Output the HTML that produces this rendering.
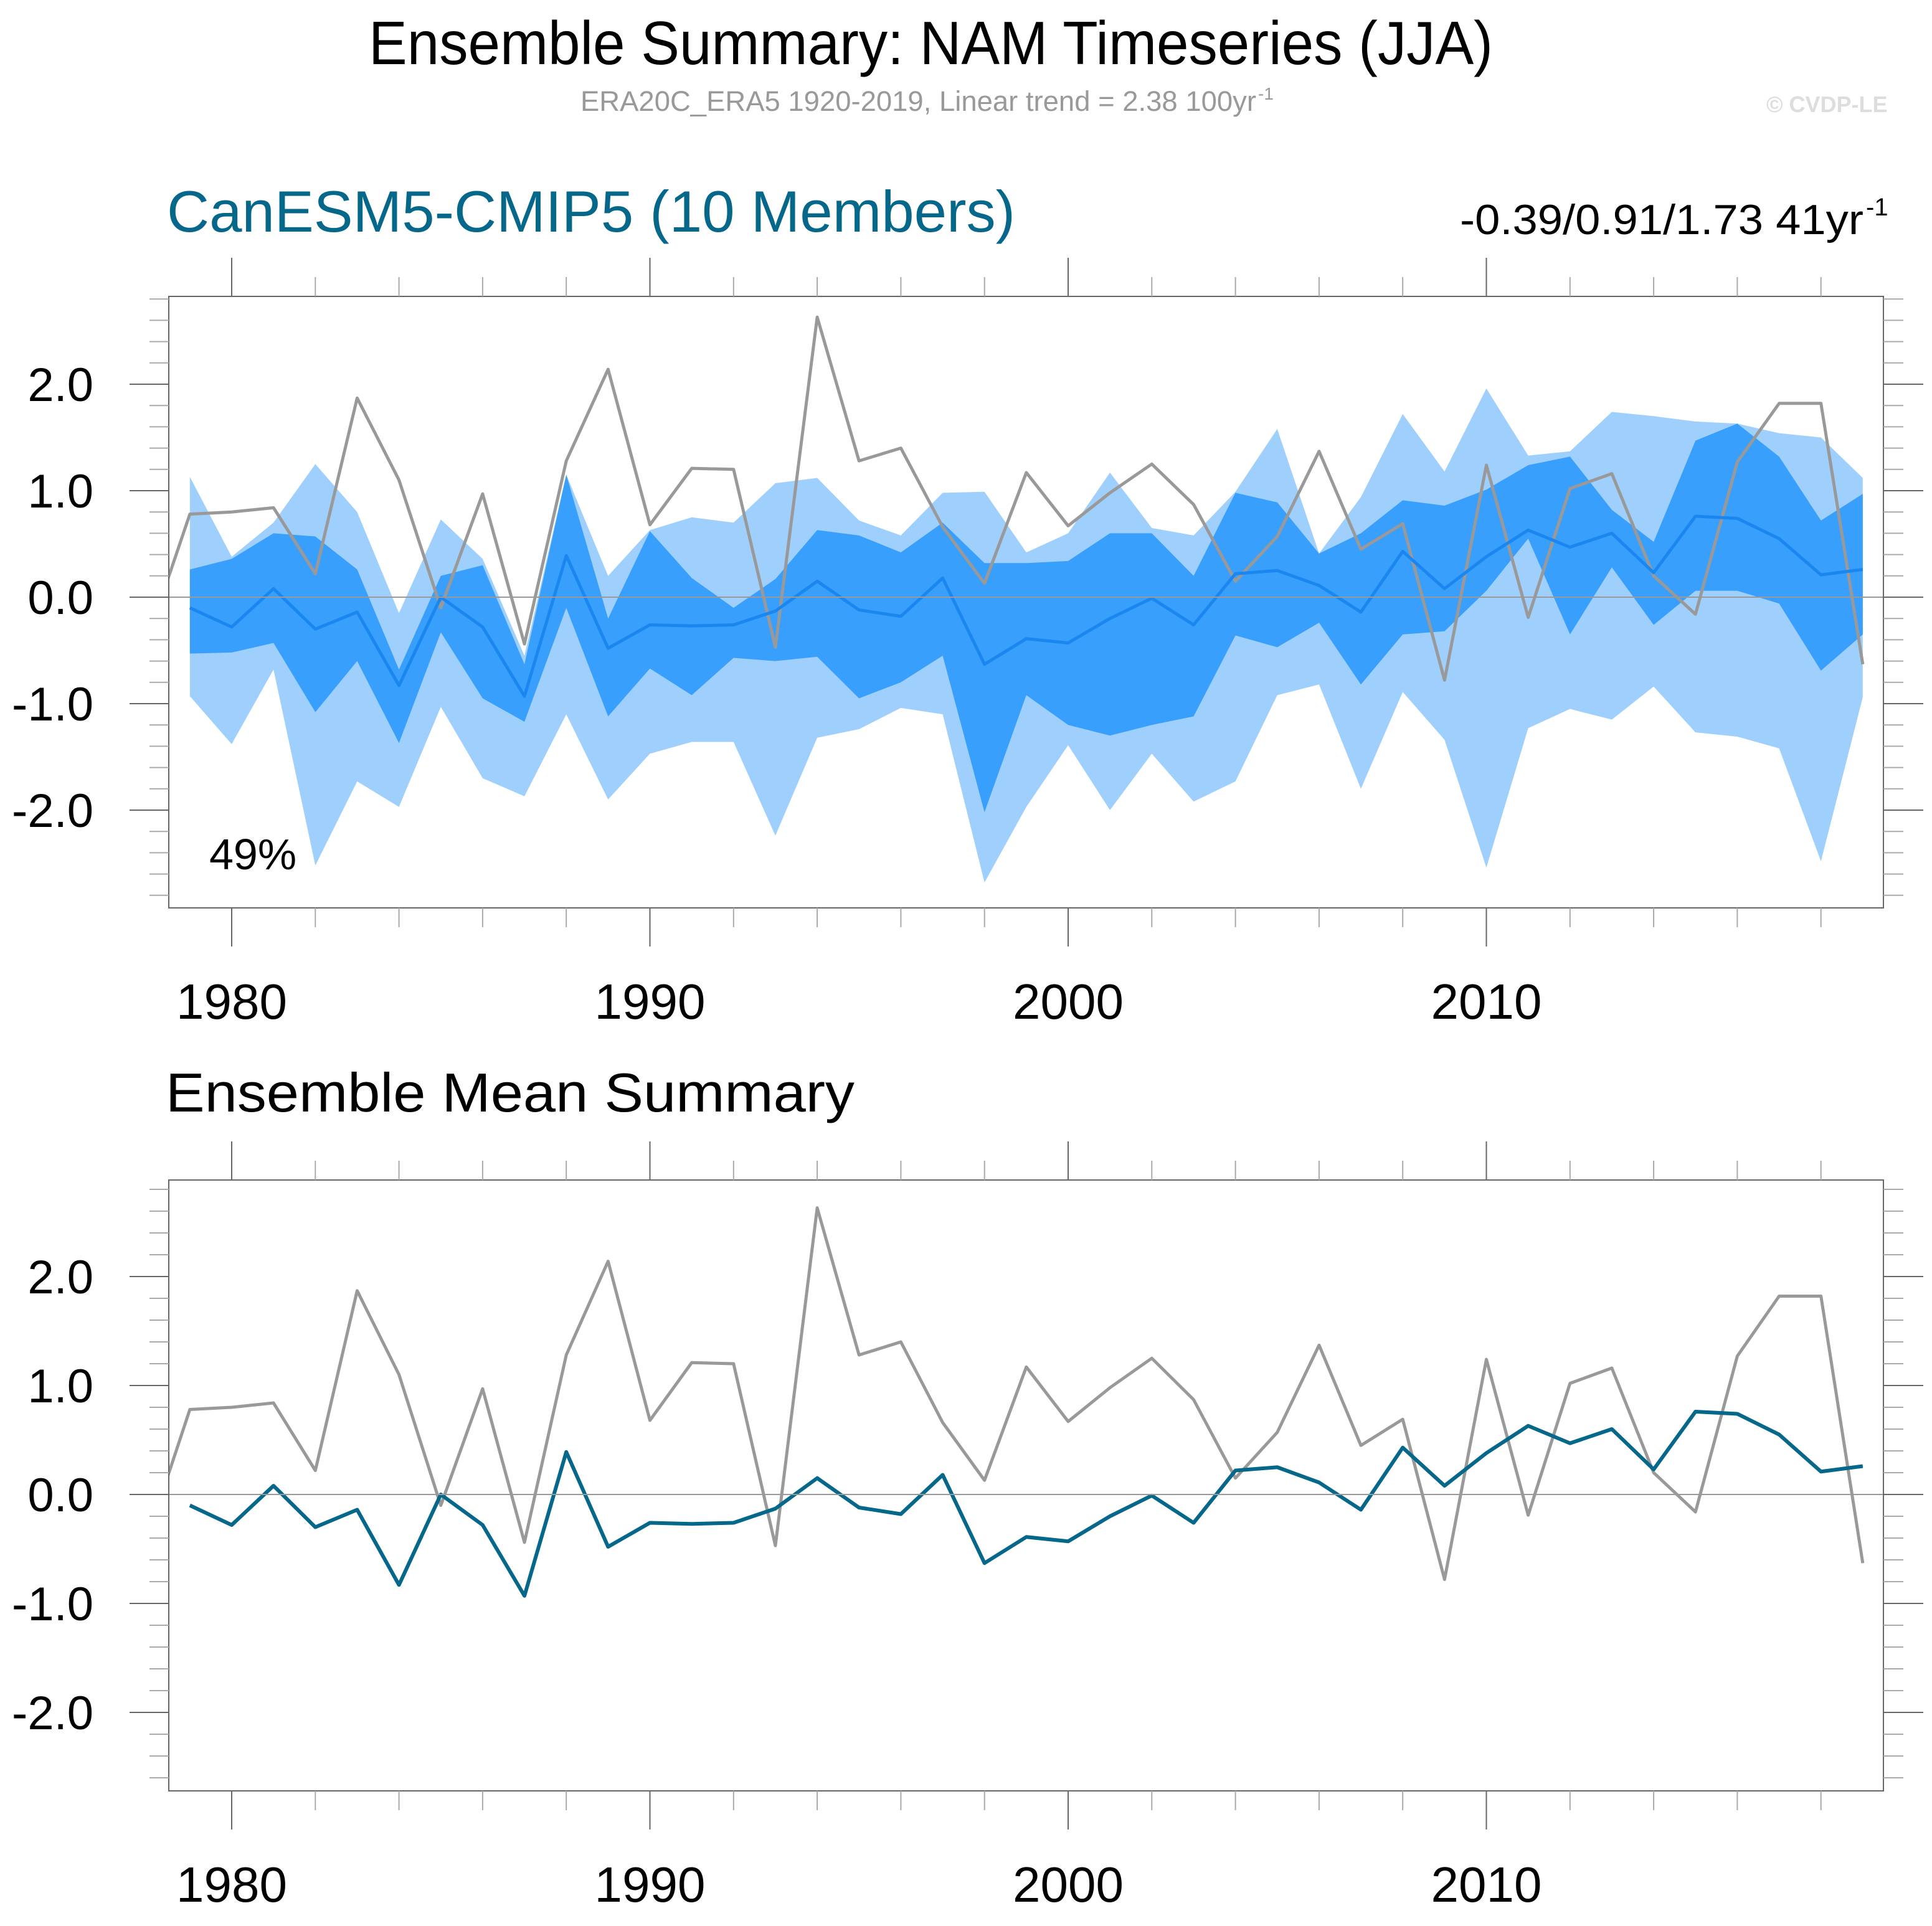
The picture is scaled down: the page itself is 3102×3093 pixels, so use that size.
<!DOCTYPE html>
<html><head><meta charset="utf-8"><style>
html,body{margin:0;padding:0;background:#fff;}
svg{display:block;}
text{font-family:"Liberation Sans",sans-serif;}
</style></head>
<body>
<svg id="chart" xmlns="http://www.w3.org/2000/svg" width="3102" height="3093" viewBox="0 0 3102 3093">
<rect width="3102" height="3093" fill="#fff"/>
<text x="592" y="103" font-size="98" textLength="1805" lengthAdjust="spacingAndGlyphs">Ensemble Summary: NAM Timeseries (JJA)</text>
<text x="932" y="178" font-size="45" fill="#999" textLength="1085" lengthAdjust="spacingAndGlyphs">ERA20C_ERA5 1920-2019, Linear trend = 2.38 100yr</text>
<text x="2020" y="160" font-size="28" fill="#999">-1</text>
<text x="2836" y="180" font-size="36" font-weight="bold" fill="#ddd">© CVDP-LE</text>
<text x="268" y="372" font-size="94" fill="#05678a" textLength="1362" lengthAdjust="spacingAndGlyphs">CanESM5-CMIP5 (10 Members)</text>
<text x="2344" y="376" font-size="68" textLength="648" lengthAdjust="spacingAndGlyphs">-0.39/0.91/1.73 41yr</text>
<text x="2996" y="346" font-size="40">-1</text>
<text x="266" y="1785" font-size="88" textLength="1106" lengthAdjust="spacingAndGlyphs">Ensemble Mean Summary</text>
<g id="p1"></g>
<g id="p2"></g>
</svg>
<script>
const years = [1979,1980,1981,1982,1983,1984,1985,1986,1987,1988,1989,1990,1991,1992,1993,1994,1995,1996,1997,1998,1999,2000,2001,2002,2003,2004,2005,2006,2007,2008,2009,2010,2011,2012,2013,2014,2015,2016,2017,2018,2019];
const obsYears = [1978,1979,1980,1981,1982,1983,1984,1985,1986,1987,1988,1989,1990,1991,1992,1993,1994,1995,1996,1997,1998,1999,2000,2001,2002,2003,2004,2005,2006,2007,2008,2009,2010,2011,2012,2013,2014,2015,2016,2017,2018,2019];
const obsValues = [-0.38,0.78,0.8,0.84,0.22,1.87,1.1,-0.1,0.97,-0.44,1.28,2.14,0.68,1.21,1.2,-0.47,2.63,1.28,1.4,0.66,0.13,1.17,0.67,0.98,1.25,0.87,0.15,0.57,1.37,0.45,0.69,-0.78,1.24,-0.19,1.02,1.16,0.2,-0.16,1.27,1.82,1.82,-0.63];
const ensMean = [-0.1,-0.28,0.08,-0.3,-0.14,-0.83,0.0,-0.28,-0.93,0.39,-0.48,-0.26,-0.27,-0.26,-0.13,0.15,-0.12,-0.18,0.18,-0.63,-0.39,-0.43,-0.2,-0.01,-0.26,0.22,0.25,0.11,-0.14,0.43,0.08,0.38,0.63,0.47,0.6,0.23,0.76,0.74,0.55,0.21,0.26];
const lightUpper = [1.13,0.38,0.7,1.25,0.8,-0.15,0.73,0.36,-0.55,1.15,0.2,0.63,0.75,0.7,1.07,1.12,0.72,0.58,0.98,0.99,0.42,0.6,1.17,0.65,0.58,0.99,1.58,0.41,0.94,1.72,1.18,1.96,1.33,1.37,1.74,1.7,1.65,1.63,1.54,1.5,1.12];
const lightLower = [-0.93,-1.38,-0.68,-2.52,-1.73,-1.97,-1.03,-1.7,-1.87,-1.1,-1.9,-1.47,-1.36,-1.36,-2.24,-1.32,-1.24,-1.04,-1.1,-2.68,-1.97,-1.39,-2.0,-1.47,-1.92,-1.73,-0.92,-0.82,-1.8,-0.89,-1.34,-2.54,-1.23,-1.05,-1.15,-0.84,-1.27,-1.31,-1.42,-2.48,-0.94];
const darkUpper = [0.26,0.36,0.6,0.57,0.26,-0.68,0.2,0.3,-0.63,1.15,-0.2,0.62,0.18,-0.1,0.17,0.63,0.58,0.42,0.7,0.32,0.32,0.34,0.6,0.6,0.2,0.98,0.89,0.41,0.6,0.91,0.86,1.01,1.24,1.32,0.82,0.52,1.47,1.63,1.32,0.72,0.97];
const darkLower = [-0.53,-0.52,-0.43,-1.08,-0.6,-1.37,-0.33,-0.95,-1.17,-0.1,-1.12,-0.67,-0.92,-0.57,-0.6,-0.56,-0.95,-0.8,-0.55,-2.02,-0.92,-1.2,-1.3,-1.2,-1.12,-0.36,-0.47,-0.24,-0.82,-0.35,-0.32,0.06,0.55,-0.35,0.28,-0.26,0.06,0.06,-0.06,-0.69,-0.35];
const yTicks = [-2,-1,0,1,2];
const yTickLabels = ["-2.0","-1.0","0.0","1.0","2.0"];
const xTicks = [1980,1990,2000,2010];
const xTickLabels = ["1980","1990","2000","2010"];

const NS="http://www.w3.org/2000/svg";
function mk(parent, tag, attrs){const e=document.createElementNS(NS,tag);for(const k in attrs)e.setAttribute(k,attrs[k]);parent.appendChild(e);return e;}
const L=271,R=3024;
function xs(yr){return 372+(yr-1980)*67.15;}

function panel(g, top, bottom, zero, unit, id, withBands, meanColor){
  const ys=v=>zero-v*unit;
  const cp=mk(g,'clipPath',{id:'clip'+id});
  mk(cp,'rect',{x:L,y:top,width:R-L,height:bottom-top});
  const inner=mk(g,'g',{'clip-path':'url(#clip'+id+')'});
  if(withBands){
    let d='M'+years.map((y,i)=>xs(y)+','+ys(lightUpper[i])).join(' L')+' L'+years.slice().reverse().map((y,j)=>xs(y)+','+ys(lightLower[years.length-1-j])).join(' L')+'Z';
    const lb=mk(inner,'path',{d:d,fill:'#9fd0fd'});
    
    
    d='M'+years.map((y,i)=>xs(y)+','+ys(darkUpper[i])).join(' L')+' L'+years.slice().reverse().map((y,j)=>xs(y)+','+ys(darkLower[years.length-1-j])).join(' L')+'Z';
    const db=mk(inner,'path',{d:d,fill:'#389ffd'});
    
    
  }
  const zl=mk(g,'line',{x1:208,x2:R,y1:ys(0),y2:ys(0),stroke:'#999','stroke-width':2});
  
  
  const ol=mk(inner,'polyline',{points:obsYears.map((y,i)=>xs(y)+','+ys(obsValues[i])).join(' '),fill:'none',stroke:'#999','stroke-width':5,'stroke-linejoin':'round'});
  
  
  const ml=mk(inner,'polyline',{points:years.map((y,i)=>xs(y)+','+ys(ensMean[i])).join(' '),fill:'none',stroke:meanColor,'stroke-width':withBands?5:6,'stroke-linejoin':'round'});
  
  
  const fr=mk(g,'rect',{x:L,y:top,width:R-L,height:bottom-top,fill:'none',stroke:'#666','stroke-width':2});
  
  
  for(let k=-30;k<=30;k+=2){const v=k/10;const y=ys(v);if(y<top-1||y>bottom+1)continue;
    const major=(k%10===0);
    mk(g,'line',{x1:major?208:240,x2:L,y1:y,y2:y,stroke:major?'#666':'#aaa','stroke-width':2});
    mk(g,'line',{x1:R,x2:major?R+64:R+32,y1:y,y2:y,stroke:major?'#666':'#aaa','stroke-width':2});
  }
  yTicks.forEach((v,i)=>{const t=mk(g,'text',{x:150,y:ys(v)+27,'font-size':76,'text-anchor':'end'});t.textContent=yTickLabels[i];
    
    });
  for(let yr=1980;yr<=2018;yr+=2){const x=xs(yr);const major=(yr%10===0);
    mk(g,'line',{x1:x,x2:x,y1:top,y2:top-(major?62:31),stroke:major?'#666':'#aaa','stroke-width':2});
    mk(g,'line',{x1:x,x2:x,y1:bottom,y2:bottom+(major?62:31),stroke:major?'#666':'#aaa','stroke-width':2});
  }
  xTicks.forEach((yr,i)=>{const t=mk(g,'text',{x:xs(yr),y:bottom+178,'font-size':80,'text-anchor':'middle'});t.textContent=xTickLabels[i];
    
    });
}
panel(document.getElementById('p1'),476,1458,959,171,'a',true,'#1a86f0');
panel(document.getElementById('p2'),1895,2876,2400,175,'b',false,'#05678a');
const pct=mk(document.getElementById('p1'),'text',{x:336,y:1396,'font-size':70});
pct.textContent='49%';


</script>
</body></html>
